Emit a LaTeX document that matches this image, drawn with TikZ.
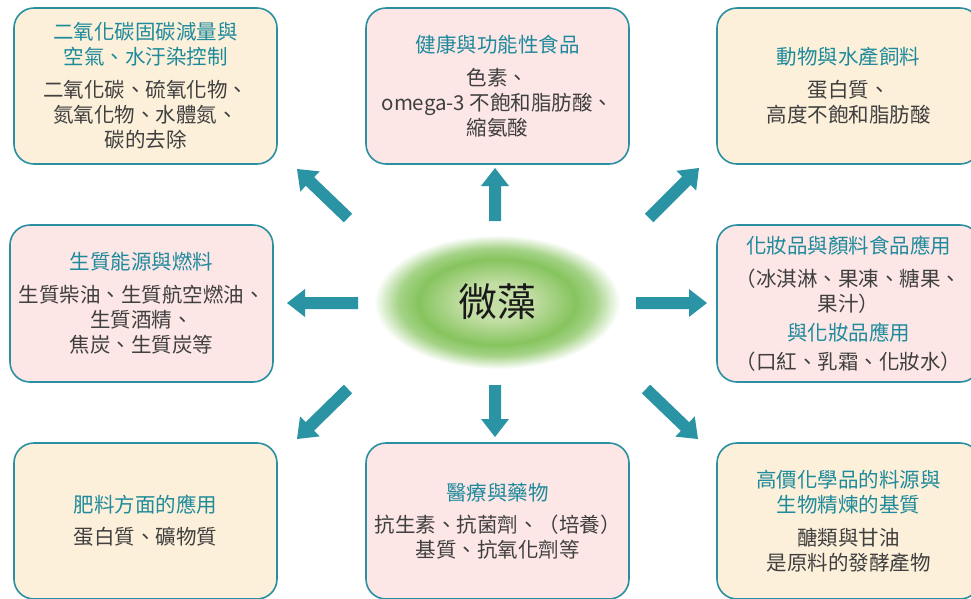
\documentclass[tikz,border=0pt]{standalone}
\usepackage{fontspec}
\setmainfont{Noto Sans CJK TC}
\usetikzlibrary{shapes.geometric,calc}
\definecolor{teal1}{HTML}{2A8FA0}
\definecolor{arrowc}{HTML}{2A94A5}
\definecolor{titlec}{HTML}{1E8A9B}
\definecolor{bodyc}{HTML}{3F3F3F}
\definecolor{yel}{HTML}{FCF0DA}
\definecolor{pnk}{HTML}{FDE6E6}
\definecolor{gA}{HTML}{C2DEA4}
\definecolor{gB}{HTML}{86C45E}
\pgfdeclareradialshading{algae}{\pgfpoint{0bp}{0bp}}{color(0bp)=(gA); color(7bp)=(gA); color(16bp)=(gB); color(20bp)=(gB!75!white); color(25bp)=(white); color(50bp)=(white)}
\tikzset{
  box/.style={draw=teal1, line width=1.6, rounded corners=20, minimum width=263, minimum height=156,
    align=center, inner sep=0, text=bodyc, font=\fontsize{20.5}{25}\selectfont},
  ybox/.style={box, fill=yel},
  pbox/.style={box, fill=pnk},
  centre/.style={ellipse, shade, shading=algae, minimum width=246, minimum height=134,
    font=\fontsize{39}{40}\selectfont, text=black!90},
}
\newcommand{\ttl}[1]{\textcolor{titlec}{#1}}
\newcommand{\blockarrow}[2]{%
  \fill[arrowc] let \p1=(#1), \p2=(#2), \n1={atan2(\y2-\y1,\x2-\x1)}, \n2={veclen(\x2-\x1,\y2-\y1)} in
    [shift={(\x1,\y1)}, rotate=\n1] (0,6) -- ({\n2-18},6) -- ({\n2-18},14) -- (\n2,0) -- ({\n2-18},-14) -- ({\n2-18},-6) -- (0,-6) -- cycle;}
\begin{document}
\begin{tikzpicture}[x=1pt,y=-1pt]
\clip (0,0) rectangle (971,598);
\fill[white] (0,0) rectangle (971,598);

\node[ybox] (tl) at (145.5,86) {\ttl{二氧化碳固碳減量與}\\\ttl{空氣、水汙染控制}\\[8pt]二氧化碳、硫氧化物、\\氮氧化物、水體氮、\\碳的去除};
\node[pbox] (tc) at (497.5,86) {\ttl{健康與功能性食品}\\[8pt]色素、\\omega-3 不飽和脂肪酸、\\縮氨酸};
\node[ybox] (tr) at (848.5,86) {\ttl{動物與水產飼料}\\[8pt]蛋白質、\\高度不飽和脂肪酸};
\node[pbox, minimum height=157] (ml) at (141.5,303.5) {\ttl{生質能源與燃料}\\[8pt]生質柴油、生質航空燃油、\\生質酒精、\\焦炭、生質炭等};
\node[pbox, minimum height=157] (mr) at (848.5,303.5) {\ttl{化妝品與顏料食品應用}\\[8pt]（冰淇淋、果凍、糖果、\\果汁）\\[4pt]\ttl{與化妝品應用}\\[4pt]（口紅、乳霜、化妝水）};
\node[ybox] (bl) at (145.5,521) {\ttl{肥料方面的應用}\\[7pt]蛋白質、礦物質};
\node[pbox] (bc) at (497.5,521) {\ttl{醫療與藥物}\\[7pt]抗生素、抗菌劑、（培養）\\基質、抗氧化劑等};
\node[ybox] (br) at (848.5,521) {\ttl{高價化學品的料源與}\\\ttl{生物精煉的基質}\\[8pt]醣類與甘油\\是原料的發酵產物};

\node[centre] (c) at (497,302) {微藻};

\coordinate (ulA) at (348,218); \coordinate (ulB) at (297,169);
\coordinate (uA) at (495,221);  \coordinate (uB) at (495,168);
\coordinate (urA) at (649,218); \coordinate (urB) at (699,168);
\coordinate (lA) at (358,303);  \coordinate (lB) at (287,303);
\coordinate (rA) at (636,303);  \coordinate (rB) at (707,303);
\coordinate (dlA) at (348,389); \coordinate (dlB) at (297,439);
\coordinate (dA) at (495,385);  \coordinate (dB) at (495,437);
\coordinate (drA) at (646,389); \coordinate (drB) at (698,439);

\blockarrow{ulA}{ulB}
\blockarrow{uA}{uB}
\blockarrow{urA}{urB}
\blockarrow{lA}{lB}
\blockarrow{rA}{rB}
\blockarrow{dlA}{dlB}
\blockarrow{dA}{dB}
\blockarrow{drA}{drB}
\end{tikzpicture}
\end{document}
